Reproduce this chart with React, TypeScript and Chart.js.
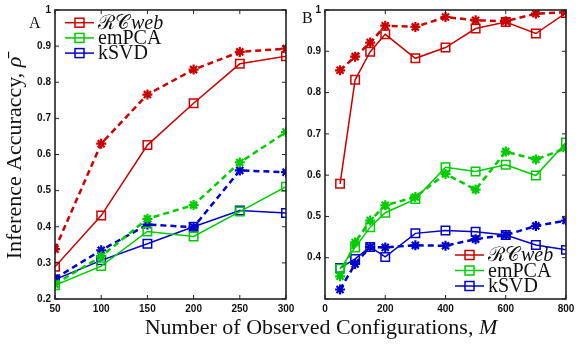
import React, { useEffect, useRef } from "react";
import { Chart, registerables } from "chart.js";
Chart.register(...registerables);

// ---------- Data ----------
const xA = [50, 100, 150, 200, 250, 300];
const rcSolidA = [0.289, 0.431, 0.626, 0.742, 0.851, 0.872];
const rcDashA = [0.338, 0.63, 0.766, 0.835, 0.884, 0.893];
const emSolidA = [0.238, 0.291, 0.387, 0.373, 0.442, 0.511];
const emDashA = [0.241, 0.318, 0.422, 0.46, 0.578, 0.662];
const kSolidA = [0.254, 0.307, 0.353, 0.4, 0.445, 0.438];
const kDashA = [0.257, 0.335, 0.406, 0.399, 0.556, 0.551];

const xB = [50, 100, 150, 200, 300, 400, 500, 600, 700, 800];
const rcSolidB = [0.579, 0.831, 0.899, 0.941, 0.883, 0.909, 0.955, 0.971, 0.943, 0.993];
const rcDashB = [0.854, 0.887, 0.921, 0.962, 0.959, 0.983, 0.975, 0.973, 0.991, 0.995];
const emSolidB = [0.373, 0.425, 0.474, 0.509, 0.542, 0.619, 0.609, 0.625, 0.599, 0.679];
const emDashB = [0.355, 0.437, 0.49, 0.527, 0.547, 0.603, 0.565, 0.657, 0.638, 0.665];
const kSolidB = [0.375, 0.397, 0.426, 0.402, 0.459, 0.466, 0.463, 0.455, 0.431, 0.419];
const kDashB = [0.323, 0.385, 0.426, 0.425, 0.43, 0.429, 0.445, 0.455, 0.477, 0.49];

const xTicksA = [50, 100, 150, 200, 250, 300];
const yTicksA = [0.2, 0.3, 0.4, 0.5, 0.6, 0.7, 0.8, 0.9, 1];
const xTicksB = [0, 200, 400, 600, 800];
const yTicksB = [0.3, 0.4, 0.5, 0.6, 0.7, 0.8, 0.9, 1];
const yLabelsHiddenB = [0.3];

const legendNames = ["RCweb", "emPCA", "kSVD"];
const RED = "#cc0000";
const GREEN = "#00cc00";
const BLUE = "#0000cc";
const COLORS = [RED, GREEN, BLUE];

const SERIF = "'Liberation Serif', 'DejaVu Serif', serif";
const TICKFONT = { family: "'Liberation Sans', Arial, sans-serif", size: 10, weight: "bold" as const };

function pts(xs: number[], ys: number[]) {
  return xs.map((x, i) => ({ x, y: ys[i] }));
}

function solid(xs: number[], ys: number[], color: string) {
  return {
    data: pts(xs, ys),
    borderColor: color,
    backgroundColor: "rgba(0,0,0,0)",
    borderWidth: 1.5,
    pointStyle: "rect",
    pointRadius: 6,
    pointBorderWidth: 1.5,
    pointBorderColor: color,
    pointBackgroundColor: "rgba(0,0,0,0)",
    tension: 0,
  };
}

function dashed(xs: number[], ys: number[], color: string) {
  return {
    data: pts(xs, ys),
    borderColor: color,
    backgroundColor: "rgba(0,0,0,0)",
    borderWidth: 2.5,
    borderDash: [6, 4],
    pointStyle: "star",
    pointRadius: 5,
    pointBorderWidth: 2.2,
    pointBorderColor: color,
    pointBackgroundColor: color,
    tension: 0,
  };
}

// draws box and inward ticks
const boxPlugin = {
  id: "boxTicks",
  afterDatasetsDraw(chart: any) {
    const { ctx, chartArea: a, scales } = chart;
    ctx.save();
    ctx.strokeStyle = "#222";
    ctx.lineWidth = 1.6;
    ctx.strokeRect(a.left, a.top, a.right - a.left, a.bottom - a.top);
    ctx.lineWidth = 1;
    const L = 4;
    scales.x.ticks.forEach((t: any) => {
      const px = scales.x.getPixelForValue(t.value);
      ctx.beginPath();
      ctx.moveTo(px, a.bottom);
      ctx.lineTo(px, a.bottom - L);
      ctx.moveTo(px, a.top);
      ctx.lineTo(px, a.top + L);
      ctx.stroke();
    });
    scales.y.ticks.forEach((t: any) => {
      const py = scales.y.getPixelForValue(t.value);
      ctx.beginPath();
      ctx.moveTo(a.left, py);
      ctx.lineTo(a.left + L, py);
      ctx.moveTo(a.right, py);
      ctx.lineTo(a.right - L, py);
      ctx.stroke();
    });
    ctx.restore();
  },
};

function drawLegend(ctx: CanvasRenderingContext2D, x0: number, rows: number[]) {
  ctx.save();
  rows.forEach((y, i) => {
    const c = COLORS[i];
    ctx.strokeStyle = c;
    ctx.lineWidth = 1.5;
    ctx.beginPath();
    ctx.moveTo(x0, y);
    ctx.lineTo(x0 + 29, y);
    ctx.stroke();
    ctx.strokeRect(x0 + 14.5 - 4.5, y - 4.5, 9, 9);
    ctx.fillStyle = "#111";
    ctx.textBaseline = "middle";
    ctx.textAlign = "left";
    const tx = x0 + 33;
    if (i === 0) {
      ctx.font = `20px ${SERIF}`;
      const s = "\u211B\uD835\uDC9E";
      ctx.fillText(s, tx, y + 1);
      const w = ctx.measureText(s).width;
      ctx.font = `italic 20px ${SERIF}`;
      ctx.fillText("web", tx + w + 1, y + 1);
    } else {
      ctx.font = `20px ${SERIF}`;
      ctx.fillText(legendNames[i], tx, y + 1);
    }
  });
  ctx.restore();
}

function makeOptions(opts: {
  xmin: number; xmax: number; ymin: number; ymax: number;
  xticks: number[]; yticks: number[]; hideY: number[];
  yWidth: number; padRight: number;
}) {
  return {
    responsive: false,
    animation: false as const,
    devicePixelRatio: 1,
    layout: { padding: { top: 8, right: opts.padRight, left: 0, bottom: 0 } },
    plugins: { legend: { display: false }, tooltip: { enabled: false } },
    scales: {
      x: {
        type: "linear" as const,
        min: opts.xmin,
        max: opts.xmax,
        grid: { display: false, drawTicks: false },
        border: { display: false },
        ticks: { font: TICKFONT, color: "#111", padding: 4, maxRotation: 0, autoSkip: false },
        afterBuildTicks: (s: any) => { s.ticks = opts.xticks.map((v) => ({ value: v })); },
        afterFit: (s: any) => { s.height = 46; },
      },
      y: {
        type: "linear" as const,
        min: opts.ymin,
        max: opts.ymax,
        grid: { display: false, drawTicks: false },
        border: { display: false },
        ticks: {
          font: TICKFONT,
          color: "#111",
          padding: 4,
          autoSkip: false,
          callback: (v: any) => (opts.hideY.some((h) => Math.abs(h - v) < 1e-6) ? "" : String(Math.round(v * 10) / 10)),
        },
        afterBuildTicks: (s: any) => { s.ticks = opts.yticks.map((v) => ({ value: v })); },
        afterFit: (s: any) => { s.width = opts.yWidth; },
      },
    },
  };
}

export default function App() {
  const refA = useRef<HTMLCanvasElement>(null);
  const refB = useRef<HTMLCanvasElement>(null);

  useEffect(() => {
    const annA = {
      id: "annA",
      afterDraw(chart: any) {
        const ctx = chart.ctx;
        drawLegend(ctx, 65, [22.7, 37.9, 53.1]);
        ctx.save();
        ctx.fillStyle = "#111";
        ctx.font = `16px ${SERIF}`;
        ctx.textAlign = "left";
        ctx.textBaseline = "alphabetic";
        ctx.fillText("A", 29, 28);
        // y title
        ctx.translate(15, 158);
        ctx.rotate(-Math.PI / 2);
        ctx.textAlign = "left";
        ctx.textBaseline = "middle";
        ctx.font = `22px ${SERIF}`;
        const s1 = "Inference Accuraccy, ";
        const s2 = "\u03C1\u0304";
        const w1 = ctx.measureText(s1).width;
        ctx.font = `italic 22px ${SERIF}`;
        const w2 = ctx.measureText(s2).width;
        const start = -(w1 + w2) / 2;
        ctx.font = `22px ${SERIF}`;
        ctx.fillText(s1, start, 0);
        ctx.font = `italic 22px ${SERIF}`;
        ctx.fillText(s2, start + w1, 0);
        ctx.restore();
      },
    };
    const annB = {
      id: "annB",
      afterDraw(chart: any) {
        const ctx = chart.ctx;
        drawLegend(ctx, 160, [255, 270.5, 286]);
        ctx.save();
        ctx.fillStyle = "#111";
        ctx.font = `16px ${SERIF}`;
        ctx.textBaseline = "alphabetic";
        ctx.fillText("B", 7, 23);
        ctx.restore();
      },
    };

    const chartA = new Chart(refA.current as HTMLCanvasElement, {
      type: "line",
      data: {
        datasets: [
          dashed(xA, rcDashA, RED),
          solid(xA, rcSolidA, RED),
          dashed(xA, emDashA, GREEN),
          solid(xA, emSolidA, GREEN),
          dashed(xA, kDashA, BLUE),
          solid(xA, kSolidA, BLUE),
        ] as any,
      },
      options: makeOptions({
        xmin: 50, xmax: 300, ymin: 0.2, ymax: 1,
        xticks: xTicksA, yticks: yTicksA, hideY: [],
        yWidth: 55, padRight: 14,
      }) as any,
      plugins: [boxPlugin, annA],
    });

    const chartB = new Chart(refB.current as HTMLCanvasElement, {
      type: "line",
      data: {
        datasets: [
          dashed(xB, rcDashB, RED),
          solid(xB, rcSolidB, RED),
          dashed(xB, emDashB, GREEN),
          solid(xB, emSolidB, GREEN),
          dashed(xB, kDashB, BLUE),
          solid(xB, kSolidB, BLUE),
        ] as any,
      },
      options: makeOptions({
        xmin: 0, xmax: 800, ymin: 0.3, ymax: 1,
        xticks: xTicksB, yticks: yTicksB, hideY: yLabelsHiddenB,
        yWidth: 30, padRight: 21,
      }) as any,
      plugins: [boxPlugin, annB],
    });

    return () => {
      chartA.destroy();
      chartB.destroy();
    };
  }, []);

  return (
    <div style={{ position: "absolute", left: 0, top: 0, width: 587, height: 345, background: "#fff", overflow: "hidden" }}>
      <canvas ref={refA} width={300} height={345} style={{ position: "absolute", left: 0, top: 0, width: 300, height: 345 }} />
      <canvas ref={refB} width={292} height={345} style={{ position: "absolute", left: 295, top: 0, width: 292, height: 345 }} />
      <div
        style={{
          position: "absolute",
          left: 71,
          width: 500,
          top: 314,
          textAlign: "center",
          fontFamily: SERIF,
          fontSize: 22,
          lineHeight: "25px",
          color: "#111",
          whiteSpace: "nowrap",
        }}
      >
        Number of Observed Configurations, <i>M</i>
      </div>
    </div>
  );
}
